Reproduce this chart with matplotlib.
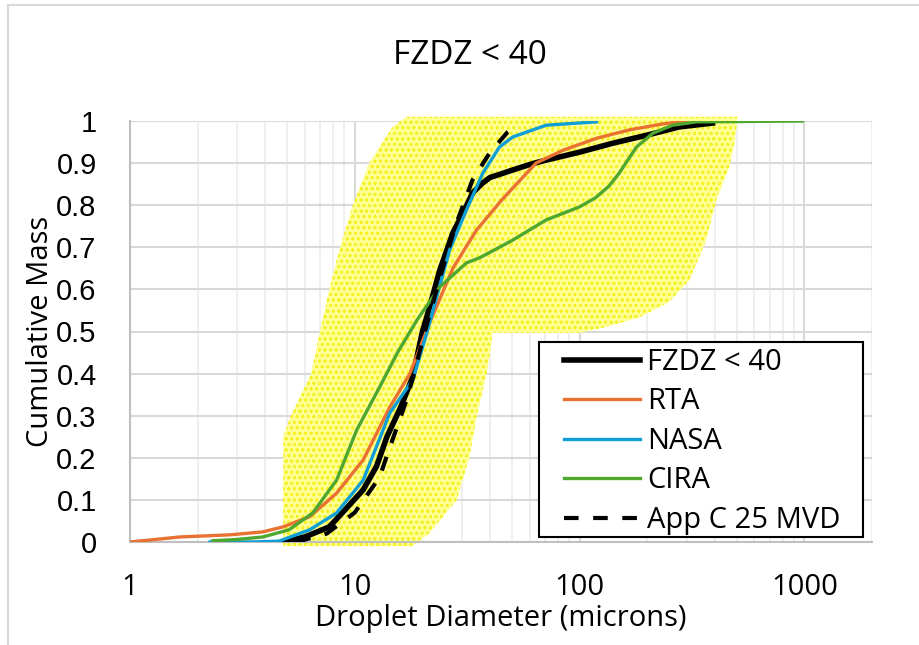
import matplotlib
matplotlib.use("Agg")
import matplotlib.pyplot as plt
from matplotlib.lines import Line2D
from matplotlib.patches import Rectangle
from matplotlib.ticker import LogLocator, FixedLocator, NullFormatter

# cumulative mass curves (diameter in microns, cumulative mass fraction)
fzdz_x = [4.8, 6.0, 7.7, 9.0, 10.9, 12.5, 13.9, 16.0, 18.1, 20.0, 20.9, 23.9, 27.3, 30.2,
          33.5, 37.1, 40, 44, 50, 62, 71, 100, 140, 198, 278, 390]
fzdz_y = [0.0, 0.012, 0.036, 0.075, 0.124, 0.18, 0.25, 0.32, 0.392, 0.50, 0.534, 0.646, 0.734,
          0.78, 0.83, 0.853, 0.866, 0.873, 0.883, 0.899, 0.907, 0.926, 0.947, 0.966, 0.986, 0.995]

rta_x = [1.0, 1.67, 2.78, 3.9, 4.8, 6.3, 8.3, 10.9, 14.3, 17.6, 21.5, 27.3, 34.7, 45, 64,
         84, 119, 167, 234, 300]
rta_y = [0.0, 0.012, 0.017, 0.024, 0.036, 0.06, 0.116, 0.195, 0.32, 0.40, 0.52, 0.65, 0.74,
         0.812, 0.90, 0.93, 0.959, 0.979, 0.993, 1.0]

nasa_x = [2.27, 3.5, 4.6, 6.3, 8.3, 10.9, 14.3, 18.1, 20.9, 26.4, 31.4, 37.1, 44, 50.4, 71, 119]
nasa_y = [0.0, 0.0, 0.002, 0.029, 0.069, 0.147, 0.306, 0.385, 0.496, 0.693, 0.789, 0.876,
          0.938, 0.962, 0.99, 0.998]

cira_x = [2.34, 3.0, 3.9, 5.1, 6.5, 8.3, 10.2, 12.9, 15.5, 18.9, 23.9, 31.4, 35.9, 44, 50.4,
          71, 100, 118, 135, 150, 179, 212, 259, 331, 980]
cira_y = [0.003, 0.006, 0.012, 0.029, 0.069, 0.147, 0.266, 0.368, 0.45, 0.527, 0.606, 0.663,
          0.675, 0.70, 0.717, 0.765, 0.796, 0.818, 0.845, 0.876, 0.938, 0.971, 0.99, 0.998, 1.0]

appc_x = [5.5, 7.5, 10.0, 12.9, 14.0, 17.2, 18.1, 21.0, 24.0, 28.0, 33.4, 39.8, 47.9, 50.4]
appc_y = [0.0, 0.02, 0.07, 0.154, 0.21, 0.345, 0.39, 0.52, 0.63, 0.75, 0.86, 0.924, 0.974, 0.983]

# outline of the cloud of individual FZDZ points (yellow)
band_left_x = [4.8, 4.8, 5.2, 6.4, 7.0, 7.7, 8.6, 9.8, 11.6, 13.3, 14.7, 17.0]
band_left_y = [-0.01, 0.25, 0.3, 0.4, 0.5, 0.6, 0.7, 0.8, 0.9, 0.95, 0.985, 1.01]
band_right_x = [505, 490, 464, 406, 366, 308, 250, 185, 130, 100, 41, 40, 38.6, 34.8, 32.4,
                28.4, 21.5, 18]
band_right_y = [1.01, 0.95, 0.891, 0.812, 0.717, 0.622, 0.57, 0.534, 0.51, 0.497, 0.497, 0.45,
                0.40, 0.297, 0.202, 0.10, 0.021, -0.01]

y_ticks = [0, 0.1, 0.2, 0.3, 0.4, 0.5, 0.6, 0.7, 0.8, 0.9, 1]
y_tick_labels = ["0", "0.1", "0.2", "0.3", "0.4", "0.5", "0.6", "0.7", "0.8", "0.9", "1"]
x_ticks = [1, 10, 100, 1000]
x_tick_labels = ["1", "10", "100", "1000"]

plt.rcParams["font.family"] = ["Open Sans", "DejaVu Sans"]
plt.rcParams["hatch.linewidth"] = 0.6

fig = plt.figure(figsize=(9.2, 6.45), dpi=100)
ax = fig.add_axes([130 / 920, 1 - 542 / 645, 742 / 920, 421 / 645])

# chart area border (top and left edges visible)
fig.add_artist(Line2D([8 / 920, 8 / 920], [0, 1 - 5 / 645], transform=fig.transFigure,
                      color="#d9d9d9", lw=1.5))
fig.add_artist(Line2D([8 / 920, 1], [1 - 5 / 645, 1 - 5 / 645], transform=fig.transFigure,
                      color="#d9d9d9", lw=1.5))

ax.set_xscale("log")
ax.set_xlim(1, 2000)
ax.set_ylim(0, 1)

# yellow point cloud
ax.fill(band_left_x + band_right_x, band_left_y + band_right_y,
        facecolor="#ffff96", edgecolor="#f4f020", hatch="ooo", lw=0, clip_on=False, zorder=1)

ax.plot(fzdz_x, fzdz_y, color="black", lw=4, label="FZDZ < 40", zorder=3)
ax.plot(rta_x, rta_y, color="#e97132", lw=2.4, label="RTA", zorder=3)
ax.plot(nasa_x, nasa_y, color="#0f9ed5", lw=2.4, label="NASA", zorder=3)
ax.plot(cira_x, cira_y, color="#4ea72e", lw=2.4, label="CIRA", zorder=3)
ax.plot(appc_x, appc_y, color="black", lw=3, dashes=(3.5, 3.5), label="App C 25 MVD", zorder=4)

# grid
ax.xaxis.set_major_locator(FixedLocator(x_ticks))
ax.xaxis.set_minor_locator(LogLocator(base=10, subs=range(2, 10), numticks=20))
ax.xaxis.set_minor_formatter(NullFormatter())
ax.set_xticklabels(x_tick_labels)
ax.set_yticks(y_ticks)
ax.set_yticklabels(y_tick_labels, family=["Liberation Sans", "DejaVu Sans"])
ax.grid(which="major", color="#d9d9d9", lw=1.5, zorder=0)
ax.grid(which="minor", axis="x", color="#ececec", lw=1.2, zorder=0)
ax.set_axisbelow(True)

ax.tick_params(which="both", length=0, labelsize=21, colors="black")
ax.tick_params(axis="x", pad=22)
ax.tick_params(axis="y", pad=24)
for side in ["top", "right"]:
    ax.spines[side].set_visible(False)
for side in ["left", "bottom"]:
    ax.spines[side].set_color("#bfbfbf")
    ax.spines[side].set_linewidth(1.5)

ax.set_xlabel("Droplet Diameter (microns)", fontsize=21, labelpad=2)
ax.set_ylabel("Cumulative Mass", fontsize=21, labelpad=1)
fig.text(470 / 920, 1 - 55 / 645, "FZDZ < 40", fontsize=24, ha="center", va="center")

# legend box drawn separately so the padding matches the original
ax.add_patch(Rectangle((0.551, 0.012), 0.4367, 0.4632, transform=ax.transAxes,
                       facecolor="white", edgecolor="black", lw=1.5, zorder=5))
leg = ax.legend(loc="upper left", bbox_to_anchor=(0.585, 0.461), borderaxespad=0,
                fontsize=21, frameon=False, handlelength=2.6, handletextpad=0.25,
                labelspacing=0.36, borderpad=0)
leg.set_zorder(6)

fig.savefig("out.png", dpi=100)
